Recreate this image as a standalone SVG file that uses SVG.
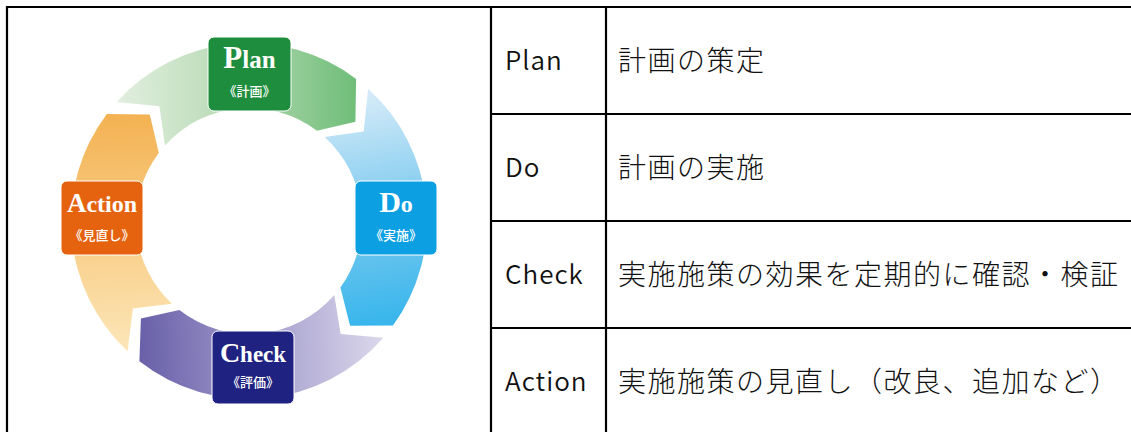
<svg xmlns="http://www.w3.org/2000/svg" width="1131" height="432" viewBox="0 0 1131 432">
<style>
.ln{stroke:#000;stroke-width:2.2;fill:none}
.lbl{font-family:"Noto Sans CJK JP","Noto Sans",sans-serif;font-size:26px;font-weight:350;letter-spacing:1px;fill:#111}
.jp{font-family:"Noto Sans CJK JP",sans-serif;font-size:28px;font-weight:300;letter-spacing:1.5px;fill:#111}
.bt{font-family:"Liberation Serif",serif;font-weight:bold;fill:#fff}
.bs{font-family:"Noto Sans CJK JP",sans-serif;font-weight:500;font-size:13px;fill:#fff}
.box{stroke:#fff;stroke-width:1}
</style>
<defs>
<linearGradient id="gG" gradientUnits="userSpaceOnUse" x1="117" y1="102" x2="356" y2="100"><stop offset="0" stop-color="#e2efdf"/><stop offset="0.5" stop-color="#b5d9b2"/><stop offset="1" stop-color="#6fbe79"/></linearGradient>
<linearGradient id="gB" gradientUnits="userSpaceOnUse" x1="345" y1="100" x2="380" y2="320"><stop offset="0" stop-color="#d3eaf8"/><stop offset="0.5" stop-color="#7fcbef"/><stop offset="1" stop-color="#3ab6ec"/></linearGradient>
<linearGradient id="gP" gradientUnits="userSpaceOnUse" x1="383" y1="330" x2="140" y2="340"><stop offset="0" stop-color="#dcd8ec"/><stop offset="0.5" stop-color="#a39dcc"/><stop offset="1" stop-color="#6960a9"/></linearGradient>
<linearGradient id="gO" gradientUnits="userSpaceOnUse" x1="128" y1="351" x2="120" y2="114"><stop offset="0" stop-color="#fce6b8"/><stop offset="0.5" stop-color="#f8cd86"/><stop offset="1" stop-color="#f3b252"/></linearGradient>
</defs>
<g id="table">
<line class="ln" x1="7" y1="7" x2="1131" y2="7"/>
<line class="ln" x1="7" y1="6" x2="7" y2="432"/>
<line class="ln" x1="491" y1="7" x2="491" y2="432"/>
<line class="ln" x1="606" y1="7" x2="606" y2="432"/>
<line class="ln" x1="491" y1="114" x2="1131" y2="114"/>
<line class="ln" x1="491" y1="221" x2="1131" y2="221"/>
<line class="ln" x1="491" y1="328" x2="1131" y2="328"/>
<text class="lbl" x="505" y="70">Plan</text>
<text class="jp" x="618" y="71">計画の策定</text>
<text class="lbl" x="505" y="177">Do</text>
<text class="jp" x="618" y="178">計画の実施</text>
<text class="lbl" x="505" y="284">Check</text>
<text class="jp" x="618" y="285">実施施策の効果を定期的に確認・検証</text>
<text class="lbl" x="505" y="391">Action</text>
<text class="jp" x="618" y="392">実施施策の見直し（改良、追加など）</text>
</g>
<g id="connectors">
<path id="arrow-plan" fill="url(#gG)" d="M116.7,101.9 A178,178 0 0 1 356.1,78.9 L355.4,121.8 L317.0,130.8 A113,113 0 0 0 165.0,145.4 L159.4,106.3 Z"/>
<path id="arrow-do" fill="url(#gB)" d="M368.1,88.7 A178,178 0 0 1 393.0,325.6 L350.1,325.7 L340.4,287.4 A113,113 0 0 0 324.6,137.0 L363.7,131.4 Z"/>
<path id="arrow-check" fill="url(#gP)" d="M383.3,337.8 A178,178 0 0 1 139.4,361.3 L140.9,318.4 L179.4,310.0 A113,113 0 0 0 334.3,295.1 L340.6,334.1 Z"/>
<path id="arrow-action" fill="url(#gO)" d="M127.6,351.2 A178,178 0 0 1 106.9,113.9 L149.8,114.6 L158.8,153.0 A113,113 0 0 0 171.9,303.7 L132.8,308.6 Z"/>
</g>
<g id="node-plan">
<rect class="box" x="208" y="37" width="83" height="74" rx="6" fill="#1e8e3e"/>
<text class="bt" x="249.5" y="68" text-anchor="middle"><tspan font-size="31">P</tspan><tspan font-size="25">lan</tspan></text>
<text class="bs" x="249.5" y="96" text-anchor="middle">《計画》</text>
</g>
<g id="node-do">
<rect class="box" x="355" y="181" width="82" height="74" rx="6" fill="#0c9fe2"/>
<text class="bt" x="396" y="212" text-anchor="middle"><tspan font-size="30">D</tspan><tspan font-size="24">o</tspan></text>
<text class="bs" x="396" y="240" text-anchor="middle">《実施》</text>
</g>
<g id="node-check">
<rect class="box" x="212" y="331" width="82" height="73" rx="6" fill="#1f2280"/>
<text class="bt" x="253" y="362" text-anchor="middle"><tspan font-size="28">C</tspan><tspan font-size="23">heck</tspan></text>
<text class="bs" x="253" y="387" text-anchor="middle">《評価》</text>
</g>
<g id="node-action">
<rect class="box" x="61" y="181" width="82" height="74" rx="6" fill="#e5630f"/>
<text class="bt" x="102" y="212" text-anchor="middle"><tspan font-size="27">A</tspan><tspan font-size="24">ction</tspan></text>
<text class="bs" x="102" y="240" text-anchor="middle">《見直し》</text>
</g>
</svg>
